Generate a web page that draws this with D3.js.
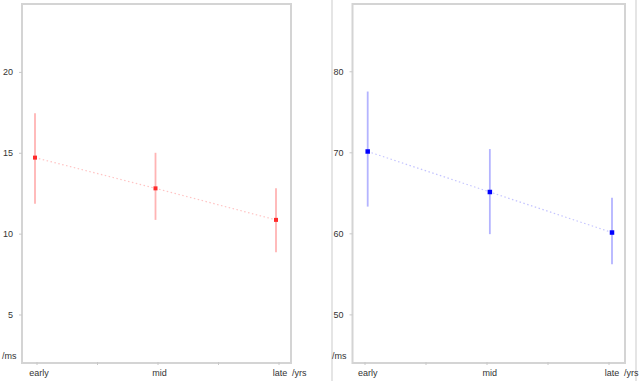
<!DOCTYPE html>
<html>
<head>
<meta charset="utf-8">
<script src="https://cdn.jsdelivr.net/npm/d3@7"></script>
<style>
  body { margin: 0; background: #fff; }
  text { font-family: "Liberation Sans", Arial, sans-serif; font-size: 9px; fill: #333; }
</style>
</head>
<body>
<div id="chart"></div>
<script>
var svgWidth = 640;
var svgHeight = 381;

var categories = ["early", "mid", "late"];

// left panel values
var leftMean = [14.7, 12.8, 10.85];
var leftLow = [11.85, 10.85, 8.85];
var leftHigh = [17.45, 15.0, 12.8];
var leftTicks = [5, 10, 15, 20];

// right panel values
var rightMean = [70.1, 65.1, 60.1];
var rightLow = [63.3, 59.9, 56.2];
var rightHigh = [77.5, 70.4, 64.4];
var rightTicks = [50, 60, 70, 80];

var svg = d3.select("#chart")
  .append("svg")
  .attr("width", svgWidth)
  .attr("height", svgHeight);

// panel separators
[332, 636].forEach(function(x) {
  svg.append("line")
    .attr("x1", x).attr("x2", x)
    .attr("y1", 0).attr("y2", svgHeight)
    .attr("stroke", "#dcdcdc")
    .attr("stroke-width", 1.5);
});

var panels = [
  { mean: leftMean, low: leftLow, high: leftHigh, ticks: leftTicks, domain: [2, 24.2],
    frame: [22, 291], points: [35, 276], minor: [37, 279], labelShift: 4,
    yLabelX: 2, bar: "#ffb4b4", dot: "#ff2a2a", line: "#ffc4c4", dotSize: 4 },
  { mean: rightMean, low: rightLow, high: rightHigh, ticks: rightTicks, domain: [44, 88.3],
    frame: [352.5, 625], points: [367.7, 612], minor: [365, 609], labelShift: 0,
    yLabelX: 332, bar: "#b4b4ff", dot: "#0000ff", line: "#c4c4ff", dotSize: 4.5 }
];

var plotTop = 4, plotBottom = 363;

panels.forEach(function(p) {
  var data = categories.map(function(c, i) {
    return { cat: c, mean: p.mean[i], low: p.low[i], high: p.high[i] };
  });

  var x = d3.scalePoint().domain(categories).range(p.points);
  var y = d3.scaleLinear().domain(p.domain).range([plotBottom, plotTop]);
  var xMinor = d3.scaleLinear().domain([0, 4]).range(p.minor);

  var g = svg.append("g");

  // frame
  g.append("rect")
    .attr("x", p.frame[0])
    .attr("y", plotTop)
    .attr("width", p.frame[1] - p.frame[0])
    .attr("height", plotBottom - plotTop)
    .attr("fill", "none")
    .attr("stroke", "#d4d4d4")
    .attr("stroke-width", 2);

  // y axis
  var yAxis = d3.axisLeft(y).tickValues(p.ticks).tickSize(3).tickPadding(6);
  var ya = g.append("g")
    .attr("transform", `translate(${p.frame[0]}, 0)`)
    .call(yAxis);
  ya.select(".domain").remove();
  ya.selectAll(".tick line").attr("stroke", "#c8c8c8");
  ya.selectAll(".tick text")
    .style("font-size", "9px")
    .style("font-family", "'Liberation Sans', Arial, sans-serif")
    .style("fill", "#333");

  // minor x ticks
  g.selectAll(".minor")
    .data(d3.range(5))
    .enter()
    .append("line")
    .attr("x1", d => xMinor(d))
    .attr("x2", d => xMinor(d))
    .attr("y1", plotBottom - 1)
    .attr("y2", plotBottom + 2)
    .attr("stroke", "#c8c8c8");

  // category labels
  g.selectAll(".cat")
    .data(categories)
    .enter()
    .append("text")
    .attr("x", d => x(d) + p.labelShift)
    .attr("y", 376)
    .attr("text-anchor", "middle")
    .text(d => d);

  g.append("text")
    .attr("x", x("late") + p.labelShift + 12)
    .attr("y", 376)
    .text("/yrs");

  g.append("text")
    .attr("x", p.yLabelX)
    .attr("y", 359)
    .text("/ms");

  // dotted connecting line
  var line = d3.line()
    .x(d => x(d.cat))
    .y(d => y(d.mean));

  g.append("path")
    .datum(data)
    .attr("d", line)
    .attr("fill", "none")
    .attr("stroke", p.line)
    .attr("stroke-width", 1.2)
    .attr("stroke-dasharray", "1.5,2.5");

  // error bars
  g.selectAll(".err")
    .data(data)
    .enter()
    .append("line")
    .attr("x1", d => x(d.cat))
    .attr("x2", d => x(d.cat))
    .attr("y1", d => y(d.low))
    .attr("y2", d => y(d.high))
    .attr("stroke", p.bar)
    .attr("stroke-width", 1.8);

  // means
  g.selectAll(".dot")
    .data(data)
    .enter()
    .append("rect")
    .attr("x", d => x(d.cat) - p.dotSize / 2)
    .attr("y", d => y(d.mean) - p.dotSize / 2)
    .attr("width", p.dotSize)
    .attr("height", p.dotSize)
    .attr("fill", p.dot);
});
</script>
</body>
</html>
